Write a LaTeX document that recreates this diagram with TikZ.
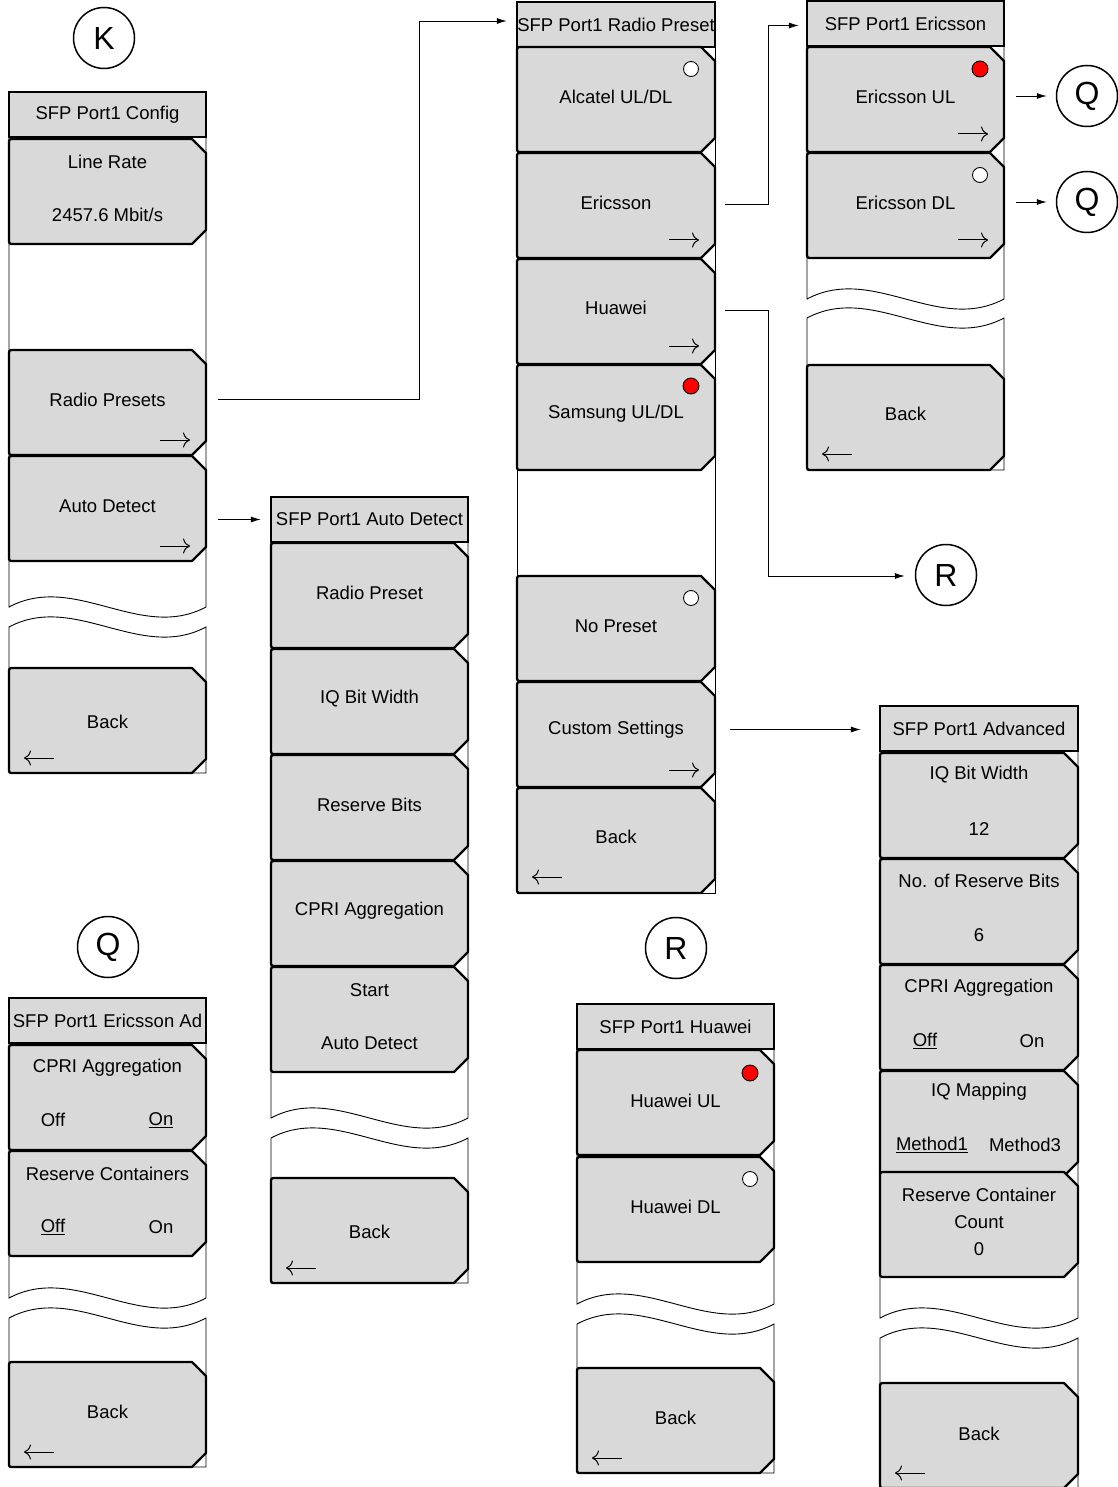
\documentclass[tikz,border=0pt]{standalone}
\usepackage{fontspec}
\setmainfont{Liberation Sans}
\usetikzlibrary{arrows.meta,calc}
\definecolor{btngray}{RGB}{217,217,217}
\tikzset{
  btnshape/.style={fill=btngray, draw=black, line width=2.3pt, line join=round},
  titlebox/.style={fill=btngray, draw=black, line width=2.3pt, inner sep=0pt},
  frameline/.style={draw=black, line width=0.9pt},
  lbl/.style={font=\fontsize{18.5}{22}\selectfont, inner sep=0pt, anchor=center},
  conn/.style={draw=black, line width=0.9pt, -{Latex[length=10pt,width=6pt]}},
  navarrow/.style={line width=1pt, -{To[length=7pt,width=15pt]}},
  letter/.style={circle, draw, line width=1.5pt, minimum size=61pt, inner sep=0pt, font=\fontsize{32}{36}\selectfont},
  radiooff/.style={circle, draw, line width=0.9pt, fill=white, minimum size=15pt, inner sep=0pt},
  radioon/.style={circle, draw, line width=0.9pt, fill=red, minimum size=16pt, inner sep=0pt},
}
% name, x0, ytop, w   (height 105)
\newcommand\menubtn[4]{%
  \draw[btnshape] ({#2+5},#3) -- ({#2+#4-14},#3) -- ({#2+#4},{#3+14}) -- ({#2+#4},{#3+91}) -- ({#2+#4-14},{#3+105}) -- ({#2+5},{#3+105}) .. controls (#2,{#3+105}) .. (#2,{#3+100}) -- (#2,{#3+5}) .. controls (#2,#3) .. ({#2+5},#3) -- cycle;
  \node[inner sep=0pt, minimum width=#4pt, minimum height=105pt] (#1) at ({#2+#4/2},{#3+52.5}) {};
}
% x0, ytop(frame), w, ybottom, wave1, wave2
\newcommand\menuframe[6]{%
  \draw[frameline] (#1,#2) -- (#1,#5) .. controls ({#1+#3/3},{#5-35}) and ({#1+2*#3/3},{#5+35}) .. ({#1+#3},#5) -- ({#1+#3},#2);
  \draw[frameline] (#1,#6) .. controls ({#1+#3/3},{#6-35}) and ({#1+2*#3/3},{#6+35}) .. ({#1+#3},#6) -- ({#1+#3},#4) -- (#1,#4) -- cycle;
}
% name, x0, ytop, w, text
\newcommand\menutitle[5]{%
  \node[titlebox, minimum width=#4pt, minimum height=45pt] (#1) at ({#2+#4/2},{#3+22.5}) {};
  \node[lbl] at (#1) {#5};
}
\begin{document}
\begin{tikzpicture}[x=1pt,y=-1pt]
\useasboundingbox (0,0) rectangle (1117,1487);

% ---------------- Column 1: SFP Port1 Config
\menuframe{9}{137}{197}{773}{607}{627}
\menutitle{t1}{9}{92}{197}{SFP Port1 Config}
\menubtn{lr}{9}{139}{197}
\node[lbl] at (107.5,162) {Line Rate};
\node[lbl] at (107.5,215) {2457.6 Mbit/s};
\menubtn{rpbtn}{9}{350}{197}
\node[lbl] at (107.5,400) {Radio Presets};
\draw[navarrow] (160,440) -- (190,440);
\menubtn{adbtn}{9}{456}{197}
\node[lbl] at (107.5,506) {Auto Detect};
\draw[navarrow] (160,546) -- (190,546);
\menubtn{bk1}{9}{668}{197}
\node[lbl] at (107.5,722) {Back};
\draw[navarrow] (54,758) -- (24,758);

% ---------------- Column 2: SFP Port1 Auto Detect
\menuframe{271}{542}{197}{1283}{1118}{1138}
\menutitle{t2}{271}{497}{197}{SFP Port1 Auto Detect}
\menubtn{a1}{271}{543}{197}
\node[lbl] at (369.5,593) {Radio Preset};
\menubtn{a2}{271}{649}{197}
\node[lbl] at (369.5,699) {IQ Bit Width};
\menubtn{a3}{271}{755}{197}
\node[lbl] at (369.5,805) {Reserve Bits};
\menubtn{a4}{271}{861}{197}
\node[lbl] at (369.5,911) {CPRI Aggregation};
\menubtn{a5}{271}{967}{197}
\node[lbl] at (369.5,990) {Start};
\node[lbl] at (369.5,1043) {Auto Detect};
\menubtn{bk2}{271}{1178}{197}
\node[lbl] at (369.5,1232) {Back};
\draw[navarrow] (316,1268) -- (286,1268);

% ---------------- Column 3: SFP Port1 Radio Preset
\draw[frameline] (517,46) rectangle (715,893);
\menutitle{t3}{517}{2}{198}{SFP Port1 Radio Preset}
\menubtn{alc}{517}{47}{198}
\node[lbl] at (616,97) {Alcatel UL/DL};
\node[radiooff] (r1) at (691,69) {};
\menubtn{ers}{517}{153}{198}
\node[lbl] at (616,203) {Ericsson};
\draw[navarrow] (669,240) -- (699,240);
\menubtn{hw}{517}{259}{198}
\node[lbl] at (616,308) {Huawei};
\draw[navarrow] (669,346) -- (699,346);
\menubtn{sam}{517}{365}{198}
\node[lbl] at (616,414) {Samsung UL/DL};
\node[radioon] (r2) at (691,386) {};
\menubtn{nop}{517}{576}{198}
\node[lbl] at (616,626) {No Preset};
\node[radiooff] (r3) at (691,598) {};
\menubtn{cs}{517}{682}{198}
\node[lbl] at (616,730) {Custom Settings};
\draw[navarrow] (669,770) -- (699,770);
\menubtn{bk3}{517}{788}{198}
\node[lbl] at (616,837) {Back};
\draw[navarrow] (562,877) -- (532,877);

% ---------------- Column 4: SFP Port1 Ericsson
\menuframe{807}{45}{197}{470}{299}{318}
\menutitle{t4}{807}{1}{197}{SFP Port1 Ericsson}
\menubtn{eul}{807}{47}{197}
\node[lbl] at (905.5,97) {Ericsson UL};
\node[radioon] (r4) at (980,69) {};
\draw[navarrow] (958,134) -- (988,134);
\menubtn{edl}{807}{153}{197}
\node[lbl] at (905.5,203) {Ericsson DL};
\node[radiooff] (r5) at (980,175) {};
\draw[navarrow] (958,240) -- (988,240);
\menubtn{bk4}{807}{365}{197}
\node[lbl] at (905.5,414) {Back};
\draw[navarrow] (852,454) -- (822,454);

% ---------------- Column 5: SFP Port1 Advanced
\menuframe{880}{751}{198}{1492}{1318}{1338}
\menutitle{t5}{880}{706}{198}{SFP Port1 Advanced}
\menubtn{v1}{880}{753}{198}
\node[lbl] at (979,775) {IQ Bit Width};
\node[lbl] at (979,829) {12};
\menubtn{v2}{880}{859}{198}
\node[lbl] at (979,881) {No. of Reserve Bits};
\node[lbl] at (979,935) {6};
\menubtn{v3}{880}{965}{198}
\node[lbl] at (979,988) {CPRI Aggregation};
\node[lbl] at (925,1041) {\underline{Off}};
\node[lbl] at (1032,1041) {On};
\menubtn{v4}{880}{1071}{198}
\node[lbl] at (979,1092) {IQ Mapping};
\node[lbl] at (932,1145) {\underline{Method1}};
\node[lbl] at (1025,1145) {Method3};
\menubtn{v5}{880}{1172}{198}
\node[lbl] at (979,1195) {Reserve Container};
\node[lbl] at (979,1222) {Count};
\node[lbl] at (979,1249) {0};
\menubtn{bk5}{880}{1383}{198}
\node[lbl] at (979,1434) {Back};
\draw[navarrow] (925,1473) -- (895,1473);

% ---------------- Column 6: SFP Port1 Ericsson Ad
\menuframe{9}{1043}{197}{1467}{1298}{1318}
\menutitle{t6}{9}{998}{197}{SFP Port1 Ericsson Ad}
\menubtn{q1}{9}{1045}{197}
\node[lbl] at (107.5,1068) {CPRI Aggregation};
\node[lbl] at (53,1120) {Off};
\node[lbl] at (161,1120) {\underline{On}};
\menubtn{q2}{9}{1151}{197}
\node[lbl] at (107.5,1174) {Reserve Containers};
\node[lbl] at (53,1227) {\underline{Off}};
\node[lbl] at (161,1227) {On};
\menubtn{bk6}{9}{1362}{197}
\node[lbl] at (107.5,1412) {Back};
\draw[navarrow] (54,1452) -- (24,1452);

% ---------------- Column 7: SFP Port1 Huawei
\menuframe{577}{1049}{197}{1473}{1304}{1324}
\menutitle{t7}{577}{1004}{197}{SFP Port1 Huawei}
\menubtn{hul}{577}{1050}{197}
\node[lbl] at (675.5,1101) {Huawei UL};
\node[radioon] (r6) at (750,1073) {};
\menubtn{hdl}{577}{1157}{197}
\node[lbl] at (675.5,1207) {Huawei DL};
\node[radiooff] (r7) at (750,1179) {};
\menubtn{bk7}{577}{1368}{197}
\node[lbl] at (675.5,1418) {Back};
\draw[navarrow] (622,1458) -- (592,1458);

% ---------------- Letter circles
\node[letter] (K)  at (104,38) {K};
\node[letter] (Q1) at (1087,96) {Q};
\node[letter] (Q2) at (1087,202) {Q};
\node[letter] (R1) at (946,575) {R};
\node[letter] (Q3) at (108,947) {Q};
\node[letter] (R2) at (676,948) {R};

% ---------------- Connectors
\draw[conn] ($(rpbtn.east)+(12,-3)$) -| (419,21) -- ($(t3.west |- 419,21)+(-9,0)$);
\draw[conn] ($(adbtn.east |- t2.west)+(12,0)$) -- ($(t2.west)+(-9,0)$);
\draw[conn] ($(ers.east)+(10,-1)$) -| ($(t4.west)+(-37,2)$) -- ($(t4.west)+(-7,2)$);
\draw[conn] ($(hw.east)+(10,-1)$) -| ($(R1.west)+(-146,1)$) -- ($(R1.west)+(-10,1)$);
\draw[conn] ($(cs.east |- t5.west)+(15,1)$) -- ($(t5.west)+(-18,1)$);
\draw[conn] ($(eul.east |- Q1.west)+(12,0)$) -- ($(Q1.west)+(-9,0)$);
\draw[conn] ($(edl.east |- Q2.west)+(12,0)$) -- ($(Q2.west)+(-9,0)$);
\end{tikzpicture}
\end{document}
